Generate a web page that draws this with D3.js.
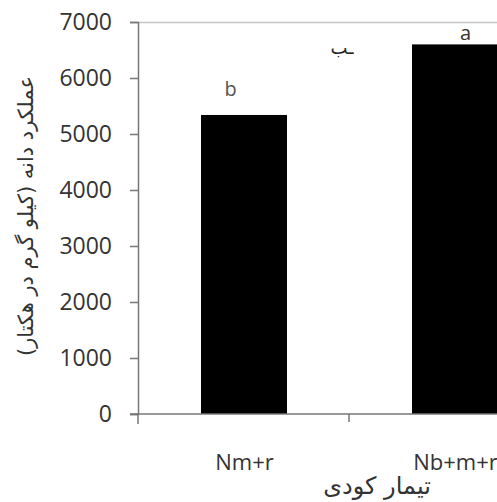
<!DOCTYPE html>
<html>
<head>
<meta charset="utf-8">
<script src="https://cdn.jsdelivr.net/npm/d3@7"></script>
<style>
  body { margin: 0; background: #fff; }
  svg { display: block; }
</style>
</head>
<body>
<div id="chart"></div>
<script>
// data
const treatments = ['Nm+r', 'Nb+m+r'];
const yields = [5340, 6600];
const letters = ['b', 'a'];
const yTicks = [0, 1000, 2000, 3000, 4000, 5000, 6000, 7000];
const yTitle = 'عملکرد دانه (کیلو گرم در هکتار)';
const xTitle = 'تيمار کودی';

const W = 497, H = 502;
const svg = d3.select('#chart').append('svg')
  .attr('width', W).attr('height', H);

const plotLeft = 138, plotTop = 22, plotBottom = 414;

// each band is 211px wide; the second one runs off the right edge
const x = d3.scaleBand()
  .domain(treatments)
  .range([plotLeft, plotLeft + 211 * treatments.length])
  .paddingInner(0).paddingOuter(0);

const y = d3.scaleLinear()
  .domain([0, 7000])
  .range([plotBottom, plotTop]);

const font = "'Open Sans', 'DejaVu Sans', sans-serif";

// top frame line of plot area
svg.append('line')
  .attr('x1', plotLeft).attr('x2', W)
  .attr('y1', plotTop + 0.5).attr('y2', plotTop + 0.5)
  .attr('stroke', '#c4c4c4').attr('stroke-width', 1.5);

// bars
const barW = 86;
svg.selectAll('.bar')
  .data(treatments)
  .enter().append('rect')
    .attr('x', (d, i) => x(d) + x.bandwidth() / 2 - barW / 2 + 0.5)
    .attr('y', (d, i) => y(yields[i]))
    .attr('width', barW)
    .attr('height', (d, i) => plotBottom - y(yields[i]))
    .attr('fill', '#000');

// significance letters
svg.selectAll('.let')
  .data(treatments)
  .enter().append('text')
    .attr('x', (d, i) => x(d) + x.bandwidth() / 2 + (i === 0 ? -13 : 11))
    .attr('y', (d, i) => y(yields[i]) + (i === 0 ? -19 : -4))
    .attr('text-anchor', 'middle')
    .attr('font-family', font)
    .attr('font-size', 20)
    .attr('fill', (d, i) => i === 0 ? '#555' : '#333')
    .text((d, i) => letters[i]);

// stray glyph between the bars
svg.append('text')
  .attr('x', 342).attr('y', 54)
  .attr('text-anchor', 'middle')
  .attr('font-family', "'DejaVu Sans', sans-serif")
  .attr('font-size', 18)
  .attr('fill', '#222')
  .text('ـب');

// y axis
const yAxis = svg.append('g')
  .attr('transform', `translate(${plotLeft},0)`)
  .call(d3.axisLeft(y).tickValues(yTicks).tickSize(8).tickPadding(18).tickFormat(d3.format('d')));
yAxis.select('.domain').attr('stroke', '#777').attr('stroke-width', 1.5);
yAxis.selectAll('.tick line').attr('stroke', '#777').attr('stroke-width', 1.5);
yAxis.selectAll('.tick text')
  .attr('font-family', font).attr('font-size', 23).attr('fill', '#333');

// x axis line and boundary ticks
const xAxis = svg.append('g')
  .attr('transform', `translate(0,${plotBottom})`);
xAxis.append('line')
  .attr('x1', plotLeft - 8).attr('x2', W)
  .attr('y1', 0).attr('y2', 0)
  .attr('stroke', '#777').attr('stroke-width', 1.5);
xAxis.selectAll('.xt')
  .data(treatments)
  .enter().append('line')
    .attr('x1', d => x(d)).attr('x2', d => x(d))
    .attr('y1', 0).attr('y2', (d, i) => i === 0 ? 10 : 8)
    .attr('stroke', '#777').attr('stroke-width', 1.5);

// category labels
svg.selectAll('.xl')
  .data(treatments)
  .enter().append('text')
    .attr('x', d => x(d) + x.bandwidth() / 2 + 1)
    .attr('y', 470)
    .attr('text-anchor', 'middle')
    .attr('font-family', font)
    .attr('font-size', 22)
    .attr('fill', '#333')
    .text(d => d);

// axis titles
svg.append('text')
  .attr('x', 377).attr('y', 494)
  .attr('text-anchor', 'middle')
  .attr('font-family', "'DejaVu Sans', sans-serif")
  .attr('font-size', 24)
  .attr('fill', '#333')
  .attr('direction', 'rtl')
  .text(xTitle);

svg.append('text')
  .attr('transform', 'translate(33,216) rotate(-90)')
  .attr('text-anchor', 'middle')
  .attr('font-family', "'DejaVu Sans', sans-serif")
  .attr('font-size', 21)
  .attr('fill', '#333')
  .attr('direction', 'rtl')
  .text(yTitle);
</script>
</body>
</html>
